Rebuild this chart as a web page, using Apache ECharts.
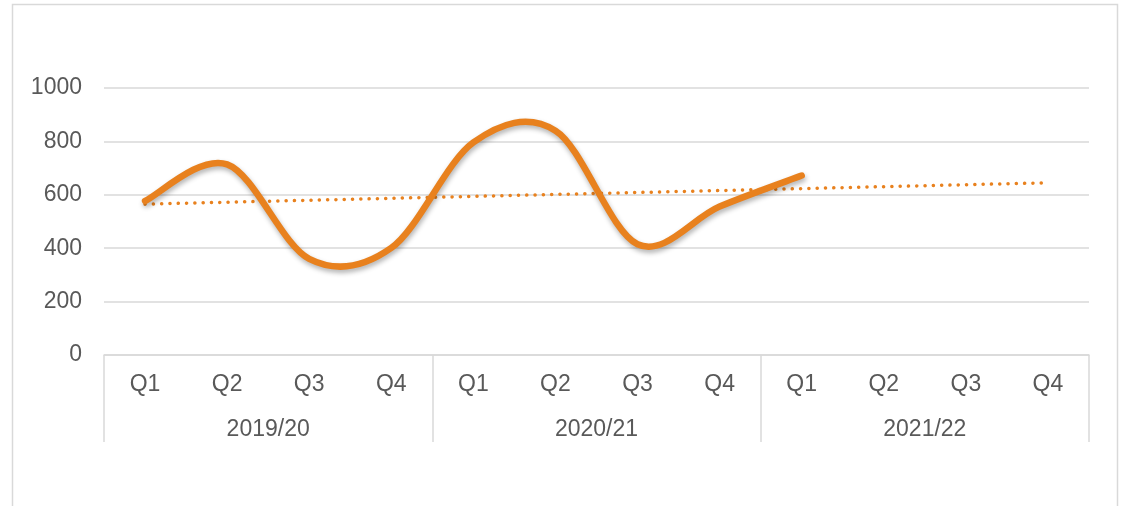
<!DOCTYPE html>
<html>
<head>
<meta charset="utf-8">
<script src="https://cdn.jsdelivr.net/npm/echarts@6/dist/echarts.min.js"></script>
<style>
html,body{margin:0;padding:0;background:#fff;}
#chart{width:1123px;height:506px;}
</style>
</head>
<body>
<div id="chart"></div>
<script>
// ---- data ----
const quarters = ['Q1','Q2','Q3','Q4','Q1','Q2','Q3','Q4','Q1','Q2','Q3','Q4'];
const years = ['2019/20','2020/21','2021/22'];
const values = [577, 714, 360, 401, 796, 840, 415, 556, 672];
const trendStart = 565;
const trendEnd = 645;
const yTicks = [0, 200, 400, 600, 800, 1000];

const orange = '#E8811E';
const gridColor = '#d9d9d9';
const textColor = '#595959';
const font = 'Liberation Sans, Arial, sans-serif';

const trend = quarters.map((q, i) => i === 0 ? trendStart : (i === quarters.length - 1 ? trendEnd : null));
const valueData = values.map((v, i) => [i, v]);

// Excel-style smoothed line (Catmull-Rom bezier), points from the axis scales
function renderSmooth(params, api) {
  if (params.dataIndex !== 0) return null;
  const pts = values.map((v, i) => api.coord([i, v]));
  const n = pts.length;
  let d = 'M' + pts[0][0] + ' ' + pts[0][1];
  for (let i = 0; i < n - 1; i++) {
    const p0 = pts[Math.max(i - 1, 0)];
    const p1 = pts[i];
    const p2 = pts[i + 1];
    const p3 = pts[Math.min(i + 2, n - 1)];
    const c1x = p1[0] + (p2[0] - p0[0]) / 6;
    const c1y = p1[1] + (p2[1] - p0[1]) / 6;
    const c2x = p2[0] - (p3[0] - p1[0]) / 6;
    const c2y = p2[1] - (p3[1] - p1[1]) / 6;
    d += ' C' + c1x + ' ' + c1y + ' ' + c2x + ' ' + c2y + ' ' + p2[0] + ' ' + p2[1];
  }
  return {
    type: 'path',
    shape: {pathData: d},
    style: {
      fill: 'none', stroke: orange, lineWidth: 6.5, lineCap: 'round', lineJoin: 'round',
      shadowColor: 'rgba(0,0,0,0.3)', shadowBlur: 5, shadowOffsetX: 1, shadowOffsetY: 3
    }
  };
}

const chart = echarts.init(document.getElementById('chart'), null, {renderer: 'canvas'});
chart.setOption({
  animation: false,
  backgroundColor: '#fff',
  graphic: [{
    type: 'rect',
    shape: {x: 12.5, y: 4.5, width: 1105, height: 520},
    style: {fill: 'none', stroke: gridColor, lineWidth: 1.5},
    silent: true, z: -1
  }],
  grid: {left: 104, right: 34, top: 88, bottom: 151, containLabel: false},
  xAxis: [{
    type: 'category',
    data: quarters,
    position: 'bottom',
    boundaryGap: true,
    axisLine: {show: true, lineStyle: {color: gridColor, width: 1.5}},
    axisTick: {show: false},
    axisLabel: {color: textColor, fontSize: 23, fontFamily: font, margin: 18, interval: 0}
  }, {
    type: 'category',
    data: years,
    position: 'bottom',
    boundaryGap: true,
    axisLine: {show: false},
    axisTick: {show: true, length: 87, lineStyle: {color: gridColor, width: 1.5}},
    axisLabel: {color: textColor, fontSize: 23, fontFamily: font, margin: 63, interval: 0},
    splitLine: {show: false}
  }],
  yAxis: {
    type: 'value',
    min: 0, max: 1000, interval: 200,
    axisLine: {show: false},
    axisTick: {show: false},
    axisLabel: {color: textColor, fontSize: 23, fontFamily: font, margin: 22,
      formatter: v => yTicks.includes(v) ? String(v) : ''},
    splitLine: {lineStyle: {color: gridColor, width: 1.5}}
  },
  series: [{
    type: 'line',
    data: trend,
    connectNulls: true,
    showSymbol: false,
    symbol: 'none',
    lineStyle: {color: orange, width: 3.5, type: [0.1, 8.2], cap: 'round'},
    z: 2
  }, {
    type: 'custom',
    data: valueData,
    renderItem: renderSmooth,
    clip: false,
    z: 3
  }]
});
</script>
</body>
</html>
